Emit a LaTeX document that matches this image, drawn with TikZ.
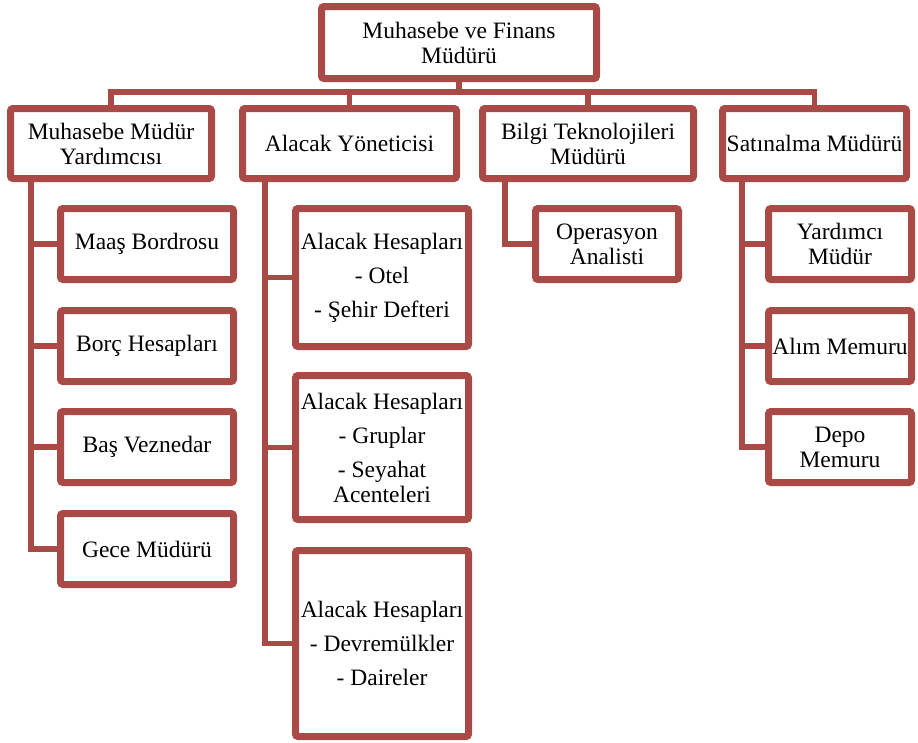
\documentclass[tikz,border=0pt]{standalone}
\usepackage{fontspec}
\setmainfont{Liberation Serif}
\newfontfamily\boxfont{Liberation Serif}
\usetikzlibrary{shadows}
\definecolor{boxred}{RGB}{170,74,71}
\tikzset{
  unit/.style={draw=boxred, line width=7pt, fill=white, rounded corners=2.5pt,
    align=center, inner sep=0pt, text=black,
    font=\boxfont\fontsize{23.5}{25}\selectfont,
    drop shadow={shadow xshift=1.5pt, shadow yshift=-2pt, opacity=0.3, fill=black!60}},
  conn/.style={draw=boxred, line width=5.5pt, line join=miter}
}
\begin{document}
\begin{tikzpicture}[x=1pt, y=-1pt]
\useasboundingbox (0,0) rectangle (918,742);

% head of department
\node[unit, minimum width=275pt, minimum height=72pt] (top) at (459,42.5) {Muhasebe ve Finans\\Müdürü};

% second level
\node[unit, minimum width=201pt, minimum height=70pt] (mmy) at (111,143.5) {Muhasebe Müdür\\Yardımcısı};
\node[unit, minimum width=214pt, minimum height=70pt] (ala) at (349.5,143.5) {Alacak Yöneticisi};
\node[unit, minimum width=211pt, minimum height=70pt] (bil) at (588,143.5) {Bilgi Teknolojileri\\Müdürü};
\node[unit, minimum width=184pt, minimum height=70pt] (sat) at (814.5,143.5) {Satınalma Müdürü};

% under the assistant accounting manager
\node[unit, minimum width=173pt, minimum height=71pt] (maas) at (147,244) {Maaş Bordrosu};
\node[unit, minimum width=173pt, minimum height=71pt] (borc) at (147,346) {Borç Hesapları};
\node[unit, minimum width=173pt, minimum height=71pt] (bas)  at (147,447) {Baş Veznedar};
\node[unit, minimum width=173pt, minimum height=71pt] (gece) at (147,549) {Gece Müdürü};

% under the receivables manager
\node[unit, minimum width=173pt, minimum height=138pt] (ah1) at (382,277.5)
  {Alacak Hesapları\\[9pt]- Otel\\[9pt]- Şehir Defteri};
\node[unit, minimum width=173pt, minimum height=144pt] (ah2) at (382,447.5)
  {Alacak Hesapları\\[9pt]- Gruplar\\[9pt]- Seyahat\\Acenteleri};
\node[unit, minimum width=173pt, minimum height=186pt] (ah3) at (382,643.5)
  {Alacak Hesapları\\[9pt]- Devremülkler\\[9pt]- Daireler};

% under the IT manager
\node[unit, minimum width=143pt, minimum height=71pt] (op) at (607,244) {Operasyon\\Analisti};

% under the purchasing manager
\node[unit, minimum width=143pt, minimum height=71pt] (yrd)  at (840,244) {Yardımcı\\Müdür};
\node[unit, minimum width=143pt, minimum height=71pt] (alim) at (840,346) {Alım Memuru};
\node[unit, minimum width=143pt, minimum height=71pt] (depo) at (840,447) {Depo\\Memuru};

% bus and spine positions
\coordinate (bus) at (0,92);
\coordinate (s1) at (31,0);
\coordinate (s2) at (265,0);
\coordinate (s3) at (505,0);
\coordinate (s4) at (742,0);

% top-level bus
\draw[conn] (mmy.north) |- (sat.north |- bus) -- (sat.north);
\draw[conn] (top.south) -- (top.south |- bus);
\draw[conn] (ala.north) -- (ala.north |- bus);
\draw[conn] (bil.north) -- (bil.north |- bus);

% spines to the children
\draw[conn] (mmy.south -| s1) |- (gece.west);
\draw[conn] (maas.west -| s1) -- (maas.west);
\draw[conn] (borc.west -| s1) -- (borc.west);
\draw[conn] (bas.west -| s1) -- (bas.west);

\draw[conn] (ala.south -| s2) |- (ah3.west);
\draw[conn] (ah1.west -| s2) -- (ah1.west);
\draw[conn] (ah2.west -| s2) -- (ah2.west);

\draw[conn] (bil.south -| s3) |- (op.west);

\draw[conn] (sat.south -| s4) |- (depo.west);
\draw[conn] (yrd.west -| s4) -- (yrd.west);
\draw[conn] (alim.west -| s4) -- (alim.west);
\end{tikzpicture}
\end{document}
